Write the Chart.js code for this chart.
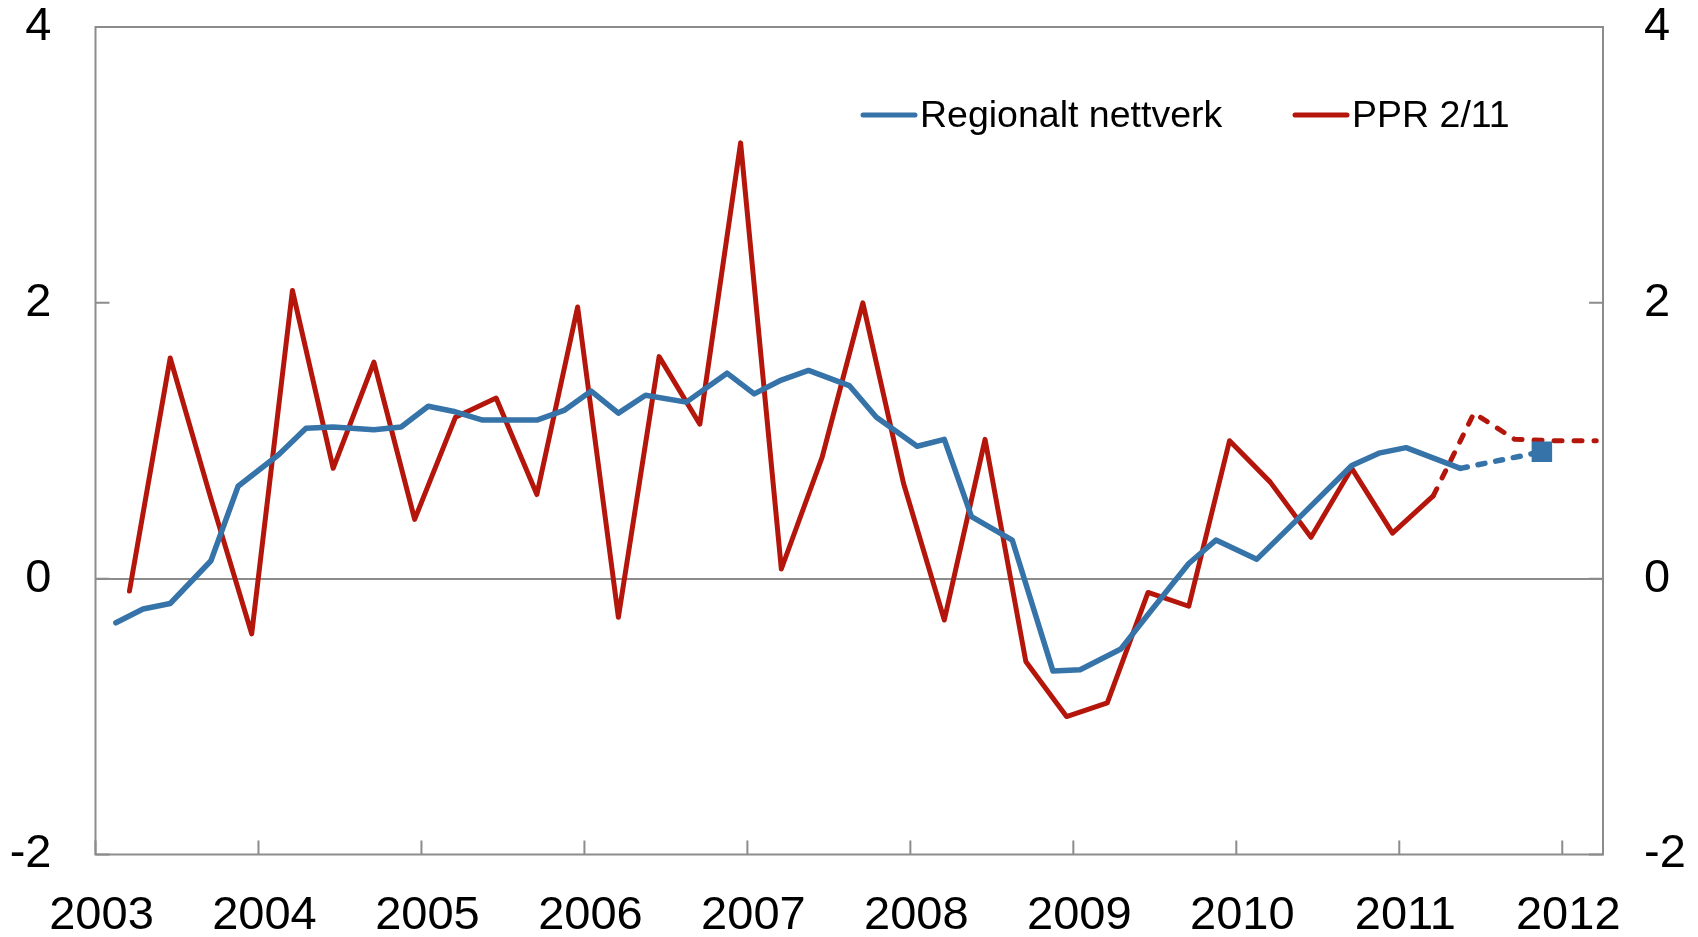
<!DOCTYPE html>
<html>
<head>
<meta charset="utf-8">
<script src="https://cdn.jsdelivr.net/npm/chart.js@4"></script>
<style>
  html, body { margin: 0; padding: 0; background: #fff; }
  #wrap { width: 1698px; height: 937px; position: relative; }
</style>
</head>
<body>
<div id="wrap"><canvas id="lineChart"></canvas></div>
<script>
// regional network survey rounds (month of survey)
var blueDates = ['2003-02','2003-04','2003-06','2003-09','2003-11',
  '2004-02','2004-04','2004-06','2004-09','2004-11',
  '2005-01','2005-03','2005-05','2005-09','2005-11',
  '2006-01','2006-03','2006-05','2006-08','2006-11',
  '2007-01','2007-03','2007-05','2007-08','2007-10',
  '2008-01','2008-03','2008-05','2008-08','2008-11',
  '2009-01','2009-04','2009-06','2009-09','2009-11',
  '2010-02','2010-05','2010-09','2010-11',
  '2011-01','2011-05','2011-11'];
var blueValues = [-0.32,-0.22,-0.18,0.13,0.67,
  0.90,1.09,1.10,1.08,1.10,
  1.25,1.21,1.15,1.15,1.22,
  1.36,1.20,1.33,1.28,1.49,
  1.34,1.44,1.51,1.40,1.17,
  0.96,1.01,0.45,0.28,-0.67,
  -0.66,-0.51,-0.26,0.11,0.28,
  0.14,0.43,0.82,0.91,
  0.95,0.80,0.92];

// PPR 2/11, quarterly
var redQuarters = ['2003K1','2003K2','2003K3','2003K4',
  '2004K1','2004K2','2004K3','2004K4',
  '2005K1','2005K2','2005K3','2005K4',
  '2006K1','2006K2','2006K3','2006K4',
  '2007K1','2007K2','2007K3','2007K4',
  '2008K1','2008K2','2008K3','2008K4',
  '2009K1','2009K2','2009K3','2009K4',
  '2010K1','2010K2','2010K3','2010K4',
  '2011K1','2011K2','2011K3','2011K4','2012K1'];
var redValues = [-0.09,1.60,0.58,-0.40,
  2.09,0.80,1.57,0.43,
  1.17,1.31,0.61,1.97,
  -0.28,1.61,1.12,3.16,
  0.07,0.88,2.00,0.69,
  -0.30,1.01,-0.60,-1.00,
  -0.90,-0.10,-0.20,1.00,
  0.70,0.30,0.80,0.33,
  0.60,1.20,1.01,1.00,1.00];

var yearTicks = [2003,2004,2005,2006,2007,2008,2009,2010,2011,2012];
var yTicks = [-2,0,2,4];

var blueDashFrom = 40;  // May 2011 onwards dashed
var redDashFrom = 32;   // 2011K1 onwards dashed

var blue = '#3573A9';
var red = '#B5160C';
var frameGray = '#8c8c8c';
var fontFamily = '"Liberation Sans", Arial, sans-serif';

function monthPos(s) {
  var p = s.split('-');
  return +p[0] + (+p[1] - 0.5) / 12;
}
function quarterPos(s) {
  var p = s.split('K');
  return +p[0] + (+p[1] * 3 - 0.5) / 12;
}

var blueData = blueDates.map(function (d, i) { return { x: monthPos(d), y: blueValues[i] }; });
var redData = redQuarters.map(function (q, i) { return { x: quarterPos(q), y: redValues[i] }; });

var framePlugin = {
  id: 'frame',
  beforeDatasetsDraw: function (chart) {
    var a = chart.chartArea, ctx = chart.ctx;
    var xs = chart.scales.x, ys = chart.scales.y;
    ctx.save();
    ctx.strokeStyle = frameGray;
    ctx.lineWidth = 2;
    ctx.strokeRect(a.left, a.top, a.right - a.left, a.bottom - a.top);
    ctx.beginPath();
    yearTicks.forEach(function (v) {
      var px = xs.getPixelForValue(v);
      ctx.moveTo(px, a.bottom);
      ctx.lineTo(px, a.bottom - 14);
    });
    yTicks.forEach(function (v) {
      var py = ys.getPixelForValue(v);
      ctx.moveTo(a.left, py);
      ctx.lineTo(a.left + 14, py);
      ctx.moveTo(a.right, py);
      ctx.lineTo(a.right - 14, py);
    });
    ctx.stroke();
    ctx.restore();
  },
  afterDatasetsDraw: function (chart) {
    // legend inside the plot
    var ctx = chart.ctx;
    var items = [
      { ds: chart.data.datasets[0], x: 863, w: 5 },
      { ds: chart.data.datasets[1], x: 1295, w: 5 }
    ];
    ctx.save();
    ctx.font = '37.5px ' + fontFamily;
    ctx.textBaseline = 'middle';
    ctx.fillStyle = '#000';
    items.forEach(function (it) {
      ctx.strokeStyle = it.ds.borderColor;
      ctx.lineWidth = it.w;
      ctx.lineCap = 'round';
      ctx.beginPath();
      ctx.moveTo(it.x, 115);
      ctx.lineTo(it.x + 52, 115);
      ctx.stroke();
      ctx.fillText(it.ds.label, it.x + 57, 117);
    });
    ctx.restore();
  }
};

var tickFont = { family: fontFamily, size: 47 };

function noPad(s) { s.paddingTop = 0; s.paddingBottom = 0; }

var ctx = document.getElementById('lineChart');
new Chart(ctx, {
  type: 'line',
  data: {
    datasets: [{
      label: 'Regionalt nettverk',
      data: blueData,
      borderColor: blue,
      backgroundColor: blue,
      borderWidth: 5.5,
      borderJoinStyle: 'round',
      borderCapStyle: 'round',
      tension: 0,
      pointStyle: 'rect',
      pointRadius: function (c) { return c.dataIndex === blueData.length - 1 ? 14.5 : 0; },
      pointBorderWidth: 0,
      segment: {
        borderDash: function (c) { return c.p0DataIndex >= blueDashFrom ? [7, 11] : undefined; }
      }
    }, {
      label: 'PPR 2/11',
      data: redData,
      borderColor: red,
      backgroundColor: red,
      borderWidth: 5,
      borderJoinStyle: 'round',
      borderCapStyle: 'round',
      tension: 0,
      pointRadius: 0,
      segment: {
        borderDash: function (c) { return c.p0DataIndex >= redDashFrom ? [8, 12] : undefined; }
      }
    }]
  },
  options: {
    responsive: true,
    maintainAspectRatio: false,
    animation: false,
    layout: { padding: { top: 27, left: 0, right: 0, bottom: 0 } },
    plugins: {
      legend: { display: false },
      tooltip: { enabled: false }
    },
    scales: {
      x: {
        type: 'linear',
        min: 2003,
        max: 2012.25,
        afterBuildTicks: function (s) { s.ticks = yearTicks.map(function (v) { return { value: v }; }); },
        afterFit: function (s) { s.height = 82.5; s.paddingLeft = 0; s.paddingRight = 0; },
        grid: { display: false, drawTicks: false },
        border: { display: false },
        ticks: {
          font: tickFont,
          color: '#000',
          padding: 33,
          labelOffset: 6,
          maxRotation: 0,
          autoSkip: false,
          callback: function (v) { return String(v); }
        }
      },
      y: {
        position: 'left',
        min: -2,
        max: 4,
        afterBuildTicks: function (s) { s.ticks = yTicks.map(function (v) { return { value: v }; }); },
        afterFit: function (s) { s.width = 95.5; noPad(s); },
        grid: {
          drawTicks: false,
          lineWidth: 2,
          color: function (c) { return c.tick && c.tick.value === 0 ? frameGray : 'rgba(0,0,0,0)'; }
        },
        border: { display: false },
        ticks: { font: tickFont, color: '#000', padding: 44 }
      },
      y2: {
        position: 'right',
        min: -2,
        max: 4,
        afterBuildTicks: function (s) { s.ticks = yTicks.map(function (v) { return { value: v }; }); },
        afterFit: function (s) { s.width = 95; noPad(s); },
        grid: { display: false, drawTicks: false },
        border: { display: false },
        ticks: { font: tickFont, color: '#000', padding: 41 }
      }
    }
  },
  plugins: [framePlugin]
});
</script>
</body>
</html>
